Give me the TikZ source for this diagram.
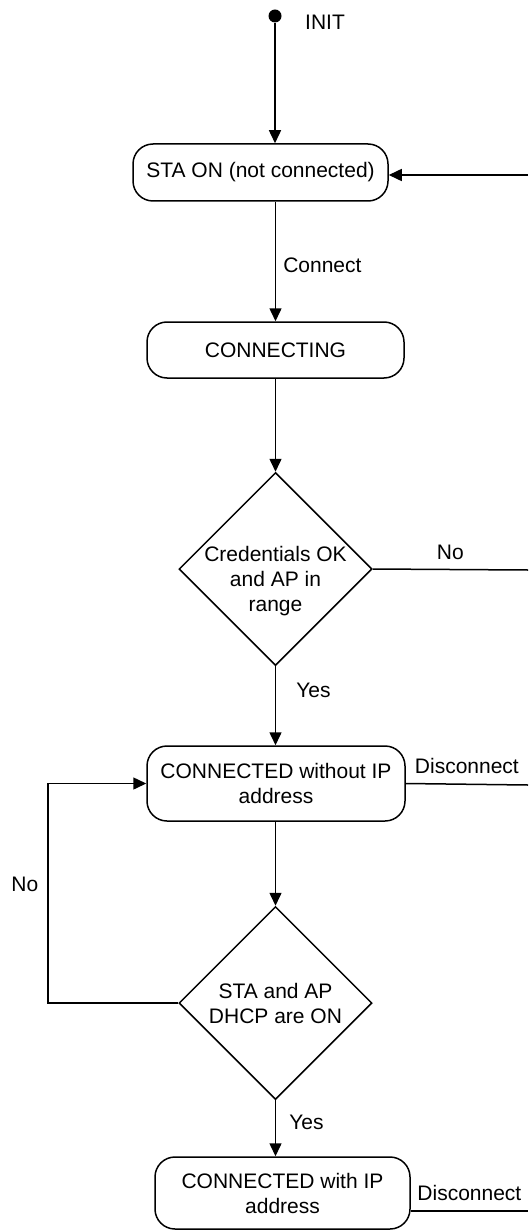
\documentclass[tikz,border=0pt]{standalone}
\usepackage{fontspec}
\setmainfont{Liberation Sans}
\usetikzlibrary{shapes.geometric,arrows.meta}

\begin{document}
\begin{tikzpicture}[x=1pt, y=-1pt, line width=1.5pt,
        state/.style={draw, rectangle, rounded corners=20pt, inner sep=0pt,
            align=center, font=\fontsize{21}{25}\selectfont},
        check/.style={draw, diamond, minimum width=193pt, minimum height=193pt,
            inner sep=0pt},
        lbl/.style={inner sep=0pt, font=\fontsize{21}{25}\selectfont},
        arr/.style={-{Triangle[length=13pt,width=12pt]}}]
    \useasboundingbox (0,0) rectangle (528,1230);
        \node[circle, fill, inner sep=0pt, minimum size=13pt] (init) at (275,16) {};
        \node[lbl] (initlbl) at (325,22) {INIT};
    % states
        \node[state, minimum width=255pt, minimum height=57pt]
            (staon) at (260.5,172.5) {STA ON (not connected)};
        \node[state, minimum width=257pt, minimum height=56pt]
            (connecting) at (275.5,350) {CONNECTING};
        \node[state, minimum width=258pt, minimum height=75pt]
            (connected) at (276,783.5) {CONNECTED without IP\\address};
        \node[state, minimum width=255pt, minimum height=72pt]
            (connectedip) at (282.5,1193) {CONNECTED with IP\\address};
    % checks
        \node[check, label={[lbl, align=center, yshift=-12pt]center:Credentials OK\\and AP in\\range}]
            (cred) at (275.5,569) {};
        \node[check, label={[lbl, align=center]center:STA and AP\\DHCP are ON}]
            (dhcp) at (275.5,1003) {};
    % right edge
        \coordinate (back1) at (528,175);
        \coordinate (back2) at (528,570);
        \coordinate (back3) at (528,785);
        \coordinate (back4) at (528,1211);
        \coordinate (loop) at (48,1003);
    % transitions
        \draw[arr] (init) -- (init |- staon.north);
        \draw[arr] (staon.south -| connecting) -- node[lbl, pos=0.53, right=7pt] {Connect}
            (connecting.north);
        \draw[arr] (connecting.south) -- (cred.north);
        \draw (cred.east) -- node[lbl, midway, above=9pt] {No} (back2);
        \draw[arr] (back1) -- (staon.east |- back1);
        \draw[arr] (cred.south) -- node[lbl, pos=0.31, right=20pt] {Yes}
            (cred.south |- connected.north);
        \draw (connected.east) -- node[lbl, midway, above=10pt] {Disconnect} (back3);
        \draw[arr] (connected.south -| dhcp) -- (dhcp.north);
        \draw[arr] (dhcp.west) -- (loop) |- node[lbl, pos=0.27, left=9pt] {No}
            (connected.west);
        \draw[arr] (dhcp.south) -- node[lbl, pos=0.4, right=13pt] {Yes}
            (dhcp.south |- connectedip.north);
        \draw (connectedip.east |- back4) -- node[lbl, midway, above=10pt] {Disconnect} (back4);
    \end{tikzpicture}
\end{document}
